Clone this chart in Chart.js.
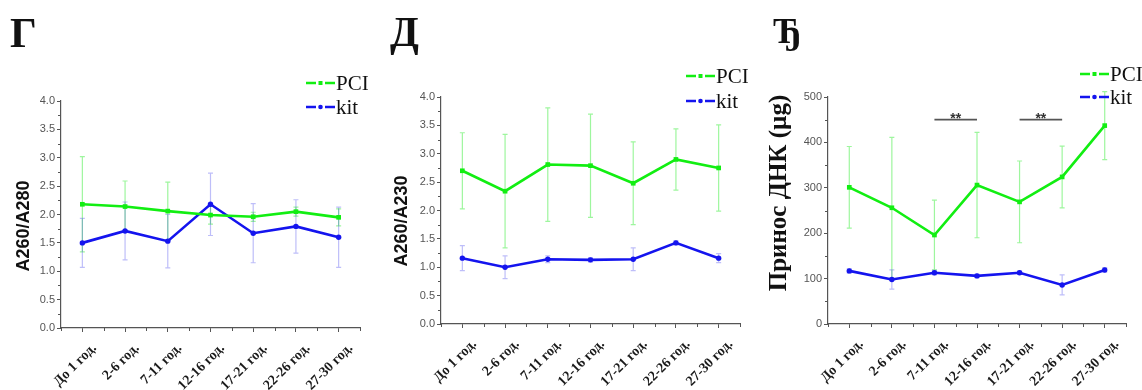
<!DOCTYPE html>
<html>
<head>
<meta charset="utf-8">
<script src="https://cdn.jsdelivr.net/npm/chart.js@4.4.1/dist/chart.umd.min.js"></script>
<style>
  html, body { margin: 0; padding: 0; background: #ffffff; }
  body { width: 1142px; height: 390px; position: relative; overflow: hidden; }
  .panel { position: absolute; top: 0; height: 390px; }
  canvas { display: block; }
</style>
</head>
<body>
<div class="panel" style="left:0px;width:380px"><canvas id="ratio280" width="380" height="390"></canvas></div>
<div class="panel" style="left:380px;width:380px"><canvas id="ratio230" width="380" height="390"></canvas></div>
<div class="panel" style="left:760px;width:382px"><canvas id="dnaYield" width="382" height="390"></canvas></div>
<script>
// Age groups shared by all three panels
const ageGroups = ['До 1 год.', '2-6 год.', '7-11 год.', '12-16 год.', '17-21 год.', '22-26 год.', '27-30 год.'];
const seriesNames = ['PCI', 'kit'];

// Г: A260/A280 purity ratio (mean and SD)
const ratio280Pci   = [2.18, 2.14, 2.06, 1.99, 1.96, 2.05, 1.95];
const ratio280PciSd = [0.84, 0.45, 0.51, 0.16, 0.08, 0.08, 0.15];
const ratio280Kit   = [1.50, 1.71, 1.53, 2.18, 1.67, 1.79, 1.60];
const ratio280KitSd = [0.43, 0.51, 0.47, 0.55, 0.52, 0.47, 0.53];

// Д: A260/A230 purity ratio (mean and SD)
const ratio230Pci   = [2.70, 2.34, 2.81, 2.79, 2.48, 2.90, 2.75];
const ratio230PciSd = [0.67, 1.00, 1.00, 0.91, 0.73, 0.54, 0.76];
const ratio230Kit   = [1.16, 1.00, 1.14, 1.13, 1.14, 1.43, 1.16];
const ratio230KitSd = [0.22, 0.20, 0.06, 0.04, 0.20, 0.04, 0.08];

// Ђ: DNA yield in µg (mean and SD)
const yieldPci   = [301, 256, 196, 306, 269, 324, 437];
const yieldPciSd = [90, 155, 77, 116, 90, 68, 75];
const yieldKit   = [117, 98, 113, 106, 113, 86, 119];
const yieldKitSd = [5, 21, 5, 4, 4, 22, 5];

// Significant differences between neighbouring age groups (PCI)
const yieldSignificantPairs = [[2, 3], [4, 5]];
const yieldSignificanceLevel = 450;
const yieldSignificanceMark = '**';

// Axis ranges
const ratioAxis = { min: 0, max: 4, step: 0.5 };
const yieldAxis = { min: 0, max: 500, step: 100 };

const GREEN = '#12ee12';
const BLUE = '#1414ee';
const GREEN_ERR = 'rgba(40, 235, 40, 0.45)';
const BLUE_ERR = 'rgba(40, 40, 235, 0.30)';
const AXIS = '#555555';

function makeDecorPlugin(spec) {
  return {
    id: 'panelDecor',
    beforeDatasetsDraw(chart) {
      const ctx = chart.ctx;
      const yScale = chart.scales.y;
      chart.data.datasets.forEach((ds, di) => {
        const meta = chart.getDatasetMeta(di);
        ctx.save();
        ctx.strokeStyle = ds.errorColor;
        ctx.lineWidth = 1.2;
        ds.data.forEach((v, i) => {
          const sd = ds.sd[i];
          const x = meta.data[i].x;
          const yTop = yScale.getPixelForValue(v + sd);
          const yBot = yScale.getPixelForValue(v - sd);
          ctx.beginPath();
          ctx.moveTo(x, yTop); ctx.lineTo(x, yBot);
          ctx.moveTo(x - 2.5, yTop); ctx.lineTo(x + 2.5, yTop);
          ctx.moveTo(x - 2.5, yBot); ctx.lineTo(x + 2.5, yBot);
          ctx.stroke();
        });
        ctx.restore();
      });
    },
    afterDraw(chart) {
      const ctx = chart.ctx;
      const xs = chart.scales.x, ys = chart.scales.y;
      const area = chart.chartArea;
      ctx.save();

      // minor ticks on both axes
      ctx.strokeStyle = AXIS;
      ctx.lineWidth = 1;
      ctx.beginPath();
      for (let i = 0; i <= chart.data.labels.length; i++) {
        const x = Math.round(xs.getPixelForValue(i - 0.5)) + 0.5;
        ctx.moveTo(x, area.bottom); ctx.lineTo(x, area.bottom + 3);
      }
      for (let v = spec.axis.min + spec.axis.step / 2; v < spec.axis.max; v += spec.axis.step) {
        const y = Math.round(ys.getPixelForValue(v)) + 0.5;
        ctx.moveTo(area.left - 3, y); ctx.lineTo(area.left, y);
      }
      ctx.stroke();

      // panel letter
      ctx.fillStyle = '#111111';
      ctx.font = `bold ${spec.letterSize}px "Liberation Serif"`;
      ctx.textAlign = 'left';
      ctx.textBaseline = 'alphabetic';
      ctx.fillText(spec.letter, spec.letterX, spec.letterY);

      // y-axis title
      ctx.save();
      ctx.translate(spec.titleX, spec.titleY);
      ctx.rotate(-Math.PI / 2);
      ctx.font = spec.titleFont;
      ctx.textAlign = 'center';
      ctx.textBaseline = 'middle';
      ctx.fillStyle = '#111111';
      ctx.fillText(spec.title, 0, 0);
      ctx.restore();

      // legend
      chart.data.datasets.forEach((ds, di) => {
        const y = spec.legendY[di];
        const x = spec.legendX;
        ctx.strokeStyle = ds.borderColor;
        ctx.lineWidth = 2.5;
        ctx.beginPath();
        ctx.moveTo(x, y); ctx.lineTo(x + 10, y);
        ctx.moveTo(x + 19, y); ctx.lineTo(x + 29, y);
        ctx.stroke();
        ctx.fillStyle = ds.borderColor;
        if (ds.pointStyle === 'rect') {
          ctx.fillRect(x + 12.5, y - 2, 4, 4);
        } else {
          ctx.beginPath(); ctx.arc(x + 14.5, y, 2.3, 0, Math.PI * 2); ctx.fill();
        }
        ctx.fillStyle = '#111111';
        ctx.font = '21px "Liberation Serif"';
        ctx.textAlign = 'left';
        ctx.textBaseline = 'middle';
        ctx.fillText(ds.label, x + 30, y + 1);
      });

      // significance brackets
      if (spec.pairs) {
        spec.pairs.forEach(([a, b]) => {
          const x1 = xs.getPixelForValue(a), x2 = xs.getPixelForValue(b);
          const y = ys.getPixelForValue(spec.sigLevel);
          ctx.strokeStyle = '#555555';
          ctx.lineWidth = 1.8;
          ctx.beginPath(); ctx.moveTo(x1, y); ctx.lineTo(x2, y); ctx.stroke();
          ctx.fillStyle = '#333333';
          ctx.font = 'bold 14px "Liberation Sans"';
          ctx.textAlign = 'center';
          ctx.textBaseline = 'alphabetic';
          ctx.fillText(spec.sigMark, (x1 + x2) / 2, y + 3);
        });
      }
      ctx.restore();
    }
  };
}

function makePanel(canvasId, spec) {
  const datasets = [
    { label: seriesNames[0], data: spec.pci, sd: spec.pciSd, errorColor: GREEN_ERR,
      borderColor: GREEN, backgroundColor: GREEN, pointStyle: 'rect', pointRadius: 3.3 },
    { label: seriesNames[1], data: spec.kit, sd: spec.kitSd, errorColor: BLUE_ERR,
      borderColor: BLUE, backgroundColor: BLUE, pointStyle: 'circle', pointRadius: 2.7 }
  ];
  return new Chart(document.getElementById(canvasId), {
    type: 'line',
    data: { labels: ageGroups, datasets: datasets.map(d => Object.assign({
      borderWidth: 2.6, tension: 0, fill: false, pointBorderWidth: 0, clip: false
    }, d)) },
    options: {
      responsive: false,
      animation: false,
      events: [],
      layout: { padding: { left: 0, top: spec.top, right: spec.right, bottom: 0 } },
      plugins: { legend: { display: false }, tooltip: { enabled: false } },
      scales: {
        x: {
          type: 'category',
          offset: true,
          afterFit: s => { s.height = spec.xHeight; },
          border: { color: AXIS, width: 1.2 },
          grid: { drawOnChartArea: false, drawTicks: true, tickLength: 4, color: AXIS, offset: false },
          ticks: {
            autoSkip: false, minRotation: 45, maxRotation: 45,
            padding: 8, labelOffset: 12,
            color: '#1a1a1a',
            font: { family: '"Liberation Serif"', weight: 'bold', size: 14 }
          }
        },
        y: {
          min: spec.axis.min, max: spec.axis.max,
          afterFit: s => { s.width = spec.yWidth; },
          border: { color: AXIS, width: 1.2 },
          grid: { drawOnChartArea: false, drawTicks: true, tickLength: 4, color: AXIS },
          ticks: {
            stepSize: spec.axis.step,
            padding: 2,
            color: '#555555',
            font: { family: '"Liberation Sans"', size: 11 },
            callback: spec.tickFormat
          }
        }
      }
    },
    plugins: [makeDecorPlugin(spec)]
  });
}

makePanel('ratio280', {
  pci: ratio280Pci, pciSd: ratio280PciSd, kit: ratio280Kit, kitSd: ratio280KitSd,
  axis: ratioAxis, tickFormat: v => v.toFixed(1),
  top: 101, right: 20, yWidth: 61, xHeight: 62,
  letter: 'Г', letterSize: 42, letterX: 10, letterY: 47,
  title: 'A260/A280', titleFont: 'bold 18px "Liberation Sans"', titleX: 24, titleY: 226,
  legendX: 306, legendY: [83, 107]
});

makePanel('ratio230', {
  pci: ratio230Pci, pciSd: ratio230PciSd, kit: ratio230Kit, kitSd: ratio230KitSd,
  axis: ratioAxis, tickFormat: v => v.toFixed(1),
  top: 97, right: 20, yWidth: 61, xHeight: 66,
  letter: 'Д', letterSize: 42, letterX: 10, letterY: 46,
  title: 'A260/A230', titleFont: 'bold 18px "Liberation Sans"', titleX: 22, titleY: 221,
  legendX: 306, legendY: [76, 101]
});

makePanel('dnaYield', {
  pci: yieldPci, pciSd: yieldPciSd, kit: yieldKit, kitSd: yieldKitSd,
  axis: yieldAxis, tickFormat: v => String(v),
  top: 97, right: 16, yWidth: 68, xHeight: 66,
  letter: 'Ђ', letterSize: 36, letterX: 13, letterY: 43,
  title: 'Принос ДНК (µg)', titleFont: 'bold 25px "Liberation Serif"', titleX: 20, titleY: 193,
  legendX: 320, legendY: [74, 97],
  pairs: yieldSignificantPairs, sigLevel: yieldSignificanceLevel, sigMark: yieldSignificanceMark
});
</script>
</body>
</html>
